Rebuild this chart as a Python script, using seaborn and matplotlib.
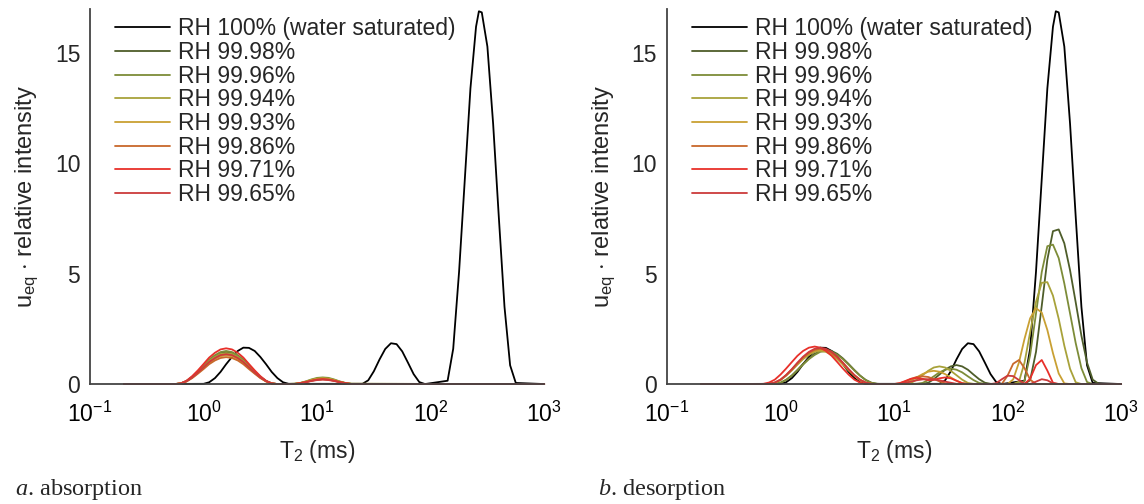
import matplotlib
matplotlib.use("Agg")
import matplotlib.pyplot as plt
import numpy as np
import pandas as pd
import seaborn as sns
from matplotlib.ticker import LogLocator, NullFormatter, FixedLocator

# ---------------- data ----------------
LABELS = ["RH 100% (water saturated)", "RH 99.98%", "RH 99.96%", "RH 99.94%",
          "RH 99.93%", "RH 99.86%", "RH 99.71%", "RH 99.65%"]
COLORS = ["#000000", "#4e5d2a", "#7d8c38", "#a8a23a", "#c9a033",
          "#c8682b", "#e8302a", "#cc3a3a"]

# RH 100% (same water-saturated state in both panels)
BLACK_T2 = [0.2, 1.0, 1.12, 1.26, 1.41, 1.58, 1.78, 2.0, 2.24, 2.51, 2.82, 3.16, 3.55,
            3.98, 4.47, 5.01, 5.62, 25.1, 28.2, 31.6, 35.5, 39.8, 44.7, 50.1, 56.2,
            63.1, 70.8, 79.4, 89.1, 141, 158, 178, 200, 224, 251, 266, 282, 316, 355,
            398, 447, 501, 562, 1000]
BLACK_U = [0, 0.01, 0.08, 0.27, 0.55, 0.90, 1.23, 1.50, 1.65, 1.64, 1.50, 1.23, 0.90,
           0.55, 0.27, 0.08, 0.01, 0.01, 0.17, 0.58, 1.12, 1.59, 1.85, 1.81, 1.48,
           0.97, 0.45, 0.09, 0.0, 0.15, 1.6, 5.1, 9.3, 13.4, 16.2, 16.9, 16.85, 15.3, 11.8,
           7.6, 3.5, 0.85, 0.05, 0]

# absorption (a)
ABS_T2 = [0.2,
          0.562, 0.631, 0.708, 0.794, 0.891, 1.0, 1.12, 1.26, 1.41, 1.58, 1.78, 2.0,
          2.24, 2.51, 2.82, 3.16, 3.55, 3.98, 4.47,
          6.31, 7.08, 7.94, 8.91, 10.0, 11.2, 12.6, 14.1, 15.8, 17.8, 20.0,
          1000]
ABS_9998 = [0, 0, 0.03, 0.14, 0.32, 0.56, 0.81, 1.07, 1.27, 1.40, 1.45, 1.40, 1.27, 1.07,
            0.81, 0.56, 0.32, 0.14, 0.03, 0,
            0.01, 0.04, 0.10, 0.17, 0.23, 0.25, 0.23, 0.17, 0.10, 0.04, 0.01, 0]
ABS_9996 = [0, 0, 0.03, 0.14, 0.33, 0.58, 0.84, 1.11, 1.31, 1.45, 1.50, 1.45, 1.31, 1.11,
            0.84, 0.58, 0.33, 0.14, 0.03, 0,
            0.01, 0.05, 0.12, 0.21, 0.28, 0.30, 0.28, 0.21, 0.12, 0.05, 0.01, 0]
ABS_9994 = [0, 0, 0.03, 0.13, 0.31, 0.54, 0.78, 1.04, 1.23, 1.36, 1.40, 1.36, 1.23, 1.04,
            0.78, 0.54, 0.31, 0.13, 0.03, 0,
            0.01, 0.04, 0.11, 0.19, 0.25, 0.27, 0.25, 0.19, 0.11, 0.04, 0.01, 0]
ABS_9993 = [0, 0, 0.03, 0.12, 0.29, 0.50, 0.73, 0.96, 1.14, 1.26, 1.30, 1.26, 1.14, 0.96,
            0.73, 0.50, 0.29, 0.12, 0.03, 0,
            0.01, 0.04, 0.10, 0.17, 0.23, 0.25, 0.23, 0.17, 0.10, 0.04, 0.01, 0]
ABS_9986 = [0, 0, 0.02, 0.12, 0.27, 0.47, 0.68, 0.90, 1.07, 1.18, 1.22, 1.18, 1.07, 0.90,
            0.68, 0.47, 0.27, 0.12, 0.02, 0,
            0, 0.04, 0.09, 0.15, 0.20, 0.22, 0.20, 0.15, 0.09, 0.04, 0, 0]
ABS_9971 = [0, 0, 0.03, 0.15, 0.36, 0.62, 0.91, 1.20, 1.42, 1.57, 1.62, 1.57, 1.42, 1.20,
            0.91, 0.62, 0.36, 0.15, 0.03, 0,
            0, 0.04, 0.09, 0.15, 0.20, 0.22, 0.20, 0.15, 0.09, 0.04, 0, 0]
ABS_9965 = [0, 0, 0.03, 0.13, 0.30, 0.52, 0.76, 1.00, 1.18, 1.31, 1.35, 1.31, 1.18, 1.00,
            0.76, 0.52, 0.30, 0.13, 0.03, 0,
            0, 0.03, 0.08, 0.14, 0.18, 0.20, 0.18, 0.14, 0.08, 0.03, 0, 0]

# desorption (b)
DES_T2 = [0.2,
          0.562, 0.631, 0.708, 0.794, 0.891, 1.0, 1.12, 1.26, 1.41, 1.58, 1.78, 2.0,
          2.24, 2.51, 2.82, 3.16, 3.55, 3.98, 4.47, 5.01, 5.62, 6.31, 7.08, 7.94,
          8.91, 10.0, 11.2, 12.6, 14.1, 15.8, 17.8, 20.0, 22.4, 25.1, 28.2, 31.6,
          35.5, 39.8, 44.7, 50.1, 56.2, 63.1, 70.8, 79.4, 89.1,
          100, 112, 126, 141, 158, 178, 200, 224, 251, 282, 316, 355, 398, 447,
          501, 562, 631, 708,
          1000]
DES_9998 = [0,
            0, 0, 0, 0, 0.01, 0.06, 0.19, 0.39, 0.64, 0.91, 1.16, 1.37, 1.50, 1.55, 1.50,
            1.37, 1.16, 0.91, 0.64, 0.39, 0.19, 0.06, 0.01, 0,
            0, 0, 0, 0, 0, 0, 0.01, 0.06, 0.22, 0.43, 0.65, 0.80, 0.86, 0.80, 0.65,
            0.43, 0.22, 0.06, 0.01, 0, 0,
            0, 0, 0, 0.01, 0.17, 1.46, 3.55, 5.64, 6.93, 7.01, 6.38, 5.16, 3.71, 2.19,
            0.97, 0.20, 0.02, 0,
            0]
DES_9996 = [0,
            0, 0, 0, 0, 0.01, 0.06, 0.18, 0.38, 0.62, 0.88, 1.13, 1.32, 1.46, 1.50, 1.46,
            1.32, 1.13, 0.88, 0.62, 0.38, 0.18, 0.06, 0.01, 0,
            0, 0, 0, 0, 0, 0.01, 0.05, 0.18, 0.35, 0.53, 0.65, 0.70, 0.65, 0.53, 0.35,
            0.18, 0.05, 0.01, 0, 0, 0,
            0, 0, 0, 0.15, 1.32, 3.2, 5.08, 6.25, 6.32, 5.71, 4.56, 3.2, 1.86, 0.72,
            0.09, 0, 0, 0,
            0]
DES_9994 = [0,
            0, 0, 0, 0.01, 0.06, 0.18, 0.38, 0.62, 0.88, 1.13, 1.32, 1.46, 1.50, 1.46, 1.32,
            1.13, 0.88, 0.62, 0.38, 0.18, 0.06, 0.01, 0, 0,
            0, 0, 0, 0.01, 0.05, 0.20, 0.40, 0.60, 0.75, 0.80, 0.75, 0.60, 0.40, 0.20, 0.05,
            0.01, 0, 0, 0, 0, 0,
            0, 0, 0.11, 0.97, 2.35, 3.73, 4.59, 4.62, 4.01, 2.96, 1.74, 0.69, 0.08, 0,
            0, 0, 0, 0,
            0]
DES_9993 = [0,
            0, 0, 0, 0.01, 0.06, 0.19, 0.39, 0.64, 0.91, 1.16, 1.37, 1.50, 1.55, 1.50, 1.37,
            1.16, 0.91, 0.64, 0.39, 0.19, 0.06, 0.01, 0, 0,
            0, 0, 0.01, 0.04, 0.15, 0.30, 0.45, 0.56, 0.60, 0.56, 0.45, 0.30, 0.15, 0.04, 0.01,
            0, 0, 0, 0, 0, 0,
            0, 0.21, 0.98, 2.05, 2.98, 3.44, 3.24, 2.45, 1.40, 0.48, 0.03, 0, 0, 0,
            0, 0, 0, 0,
            0]
DES_9986 = [0,
            0, 0, 0, 0.01, 0.06, 0.19, 0.40, 0.66, 0.94, 1.20, 1.41, 1.55, 1.60, 1.55, 1.41,
            1.20, 0.94, 0.66, 0.40, 0.19, 0.06, 0.01, 0, 0,
            0, 0, 0.03, 0.12, 0.23, 0.32, 0.35, 0.32, 0.23, 0.12, 0.03, 0, 0, 0, 0,
            0, 0, 0, 0, 0, 0.01,
            0.38, 0.92, 1.09, 0.72, 0.20, 0, 0, 0, 0, 0, 0, 0, 0, 0,
            0, 0, 0, 0,
            0]
DES_9971 = [0,
            0, 0, 0.01, 0.07, 0.20, 0.43, 0.70, 1.00, 1.28, 1.50, 1.65, 1.70, 1.65, 1.50, 1.28,
            1.00, 0.70, 0.43, 0.20, 0.07, 0.01, 0, 0, 0,
            0, 0, 0.04, 0.14, 0.24, 0.28, 0.24, 0.18, 0.19, 0.26, 0.30, 0.26, 0.15, 0.04, 0,
            0, 0, 0, 0, 0, 0,
            0, 0, 0, 0, 0.24, 0.86, 1.09, 0.61, 0.06, 0, 0, 0, 0, 0,
            0, 0, 0, 0,
            0]
DES_9965 = [0,
            0, 0, 0, 0.01, 0.07, 0.20, 0.41, 0.68, 0.97, 1.24, 1.46, 1.60, 1.65, 1.60, 1.46,
            1.24, 0.97, 0.68, 0.41, 0.20, 0.07, 0.01, 0, 0,
            0, 0, 0.01, 0.06, 0.11, 0.17, 0.21, 0.22, 0.21, 0.17, 0.11, 0.06, 0.01, 0, 0,
            0, 0, 0, 0, 0.04, 0.22,
            0.38, 0.36, 0.18, 0.02, 0, 0.11, 0.22, 0.17, 0.03, 0, 0, 0, 0, 0,
            0, 0, 0, 0,
            0]

ABS_SERIES = [(BLACK_T2, BLACK_U), (ABS_T2, ABS_9998), (ABS_T2, ABS_9996), (ABS_T2, ABS_9994),
              (ABS_T2, ABS_9993), (ABS_T2, ABS_9986), (ABS_T2, ABS_9971), (ABS_T2, ABS_9965)]
DES_SERIES = [(BLACK_T2, BLACK_U), (DES_T2, DES_9998), (DES_T2, DES_9996), (DES_T2, DES_9994),
              (DES_T2, DES_9993), (DES_T2, DES_9986), (DES_T2, DES_9971), (DES_T2, DES_9965)]


def long_frame(series):
    parts = []
    for lab, (t2, u) in zip(LABELS, series):
        assert len(t2) == len(u), lab
        parts.append(pd.DataFrame({"T2": t2, "u": u, "RH": lab}))
    return pd.concat(parts, ignore_index=True)


# ---------------- style ----------------
sns.set_style("white")
plt.rcParams["font.family"] = ["Liberation Sans", "DejaVu Sans"]
plt.rcParams["mathtext.fontset"] = "custom"
plt.rcParams["mathtext.rm"] = "Liberation Sans"
plt.rcParams["mathtext.it"] = "Liberation Serif:italic"

FS = 16.5

fig = plt.figure(figsize=(11.44, 5.04), dpi=100)
axes = [fig.add_axes([0.0787, 0.238, 0.397, 0.744]),
        fig.add_axes([0.583, 0.238, 0.397, 0.744])]

for ax, series in zip(axes, [ABS_SERIES, DES_SERIES]):
    df = long_frame(series)
    sns.lineplot(data=df, x="T2", y="u", hue="RH", hue_order=LABELS,
                 palette=COLORS, estimator=None, sort=False, legend=False,
                 linewidth=1.3, ax=ax)
    for ln in ax.lines:
        ln.set_clip_on(False)
    ax.set_xscale("log")
    ax.set_xlim(0.1, 1000)
    ax.set_ylim(0, 17)
    ax.xaxis.set_major_locator(FixedLocator([0.1, 1, 10, 100, 1000]))
    ax.xaxis.set_minor_locator(LogLocator(base=10, subs=np.arange(2, 10)))
    ax.xaxis.set_minor_formatter(NullFormatter())
    ax.set_yticks([0, 5, 10, 15])
    ax.tick_params(axis="x", which="major", direction="in", length=7, width=1,
                   colors="#333333", labelcolor="black", labelsize=FS, pad=13)
    ax.tick_params(axis="x", which="minor", direction="in", length=4, width=1,
                   colors="#333333")
    ax.tick_params(axis="y", which="major", direction="in", length=0,
                   labelsize=FS, pad=7)
    for s in ["top", "right"]:
        ax.spines[s].set_visible(False)
    for s in ["left", "bottom"]:
        ax.spines[s].set_color("#444444")
        ax.spines[s].set_linewidth(1.3)
    ax.set_xlabel(r"T$_2$ (ms)", fontsize=FS, labelpad=8)
    ax.set_ylabel(r"u$_{\mathrm{eq}}$ $\cdot$ relative intensity", fontsize=17)
    ax.yaxis.set_label_coords(-0.11, 0.5)
    ax.legend(ax.lines, LABELS, loc="upper left", bbox_to_anchor=(0.055, 0.978),
              frameon=False, fontsize=FS, handlelength=2.4, handletextpad=0.35,
              labelspacing=0.03, borderaxespad=0, borderpad=0)

fig.text(0.013, 0.028, r"$\mathit{a}$. absorption", family="Liberation Serif",
         fontsize=17.5, va="center")
fig.text(0.523, 0.028, r"$\mathit{b}$. desorption", family="Liberation Serif",
         fontsize=17.5, va="center")

fig.savefig("out.png", dpi=100)
